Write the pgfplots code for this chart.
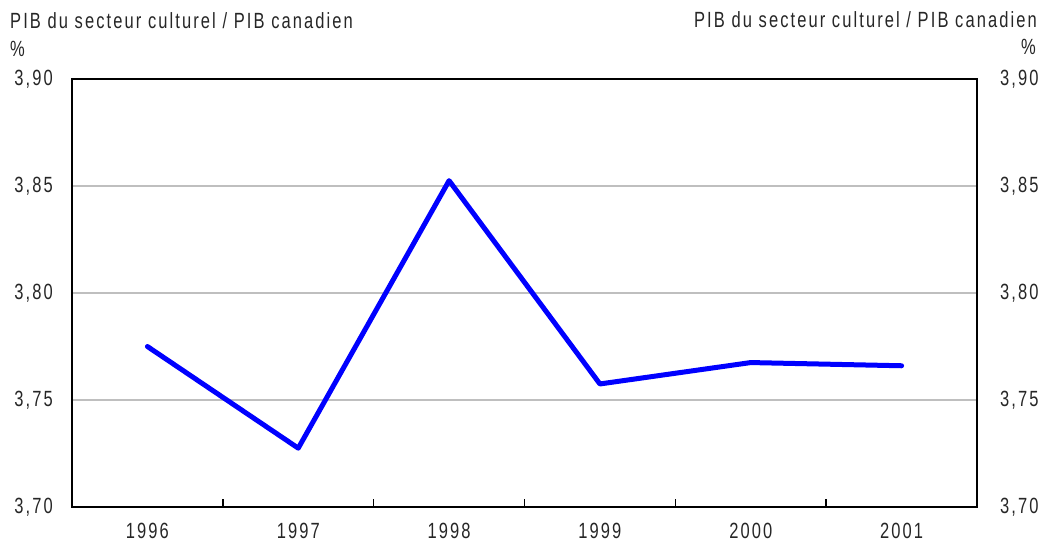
\documentclass[border=0pt]{standalone}
\usepackage{pgfplots}
\pgfplotsset{compat=1.18}
\usepackage{fontspec}
\setmainfont{Liberation Sans}[FakeStretch=0.75,LetterSpace=9.5]
\newcommand\fs{\fontsize{22pt}{25pt}\selectfont}
\begin{document}
\fs
\begin{tikzpicture}[x=1pt,y=1pt]
\path[use as bounding box] (-72,-35) rectangle (984,507);
\begin{axis}[
  at={(0,0)}, anchor=south west,
  scale only axis, width=905pt, height=428pt,
  xmin=0.5, xmax=6.5, ymin=3.70, ymax=3.90,
  xtick={1,2,3,4,5,6},
  xticklabels={1996,1997,1998,1999,2000,2001},
  ytick={3.70,3.75,3.80,3.85,3.90},
  major tick length=0pt,
  extra x ticks={1.5,2.5,3.5,4.5,5.5},
  extra x tick labels={},
  extra x tick style={major tick length=8pt, tick style={black, line width=1.5pt}, grid=none},
  tick align=inside,
  xtick pos=bottom, ytick pos=left,
  ymajorgrids, grid style={draw=black!25, line width=1.8pt},
  axis line style={line width=2pt},
  /pgf/number format/.cd, fixed, fixed zerofill, precision=2, use comma, assume math mode=true,
  /pgfplots/.cd,
  yticklabel style={anchor=east, inner sep=0pt, xshift=-19pt, text=black!85},
  xticklabel style={anchor=north, inner sep=0pt, yshift=-16pt, text=black!85},
  tick label style={font=\fs},
  clip=false,
]
\addplot[blue, line width=5pt, line join=round, line cap=round] coordinates {
 (1,3.775) (2,3.7275) (3,3.8525) (4,3.7575) (5,3.7675) (6,3.766)
};
\end{axis}
\begin{axis}[
  at={(0,0)}, anchor=south west,
  scale only axis, width=905pt, height=428pt,
  xmin=0.5, xmax=6.5, ymin=3.70, ymax=3.90,
  hide x axis,
  axis y line*=right,
  axis line style={line width=2pt},
  ytick={3.70,3.75,3.80,3.85,3.90},
  major tick length=0pt,
  /pgf/number format/.cd, fixed, fixed zerofill, precision=2, use comma, assume math mode=true,
  /pgfplots/.cd,
  yticklabel style={anchor=west, inner sep=0pt, xshift=23pt, text=black!85},
  tick label style={font=\fs},
]
\end{axis}
\begin{scope}[every node/.style={inner sep=0pt, text=black!85}]
\node[anchor=base west] at (-62,478) {PIB du secteur culturel / PIB canadien};
\node[anchor=base west] at (-62,450) {\%};
\node[anchor=base east] at (965,479) {PIB du secteur culturel / PIB canadien};
\node[anchor=base east] at (964,452) {\%};
\end{scope}
\end{tikzpicture}
\end{document}
